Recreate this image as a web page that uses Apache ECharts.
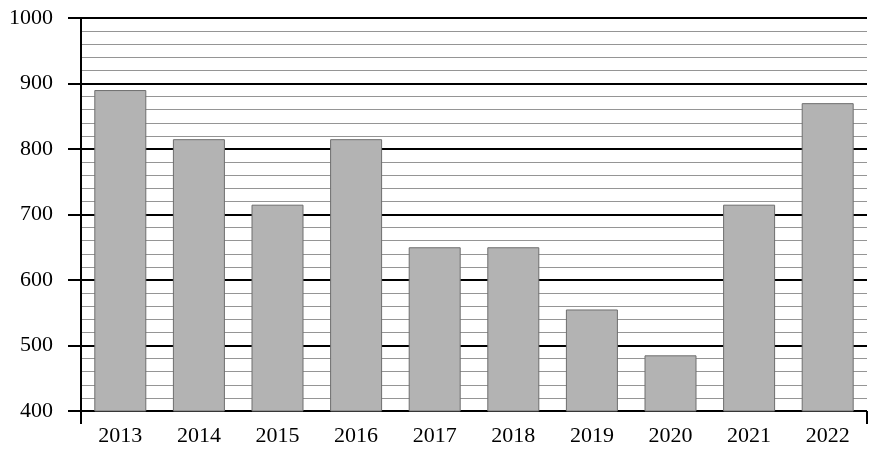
<!DOCTYPE html>
<html>
<head>
<meta charset="utf-8">
<script src="https://cdn.jsdelivr.net/npm/echarts@6/dist/echarts.min.js"></script>
<style>html,body{margin:0;padding:0;background:#fff}#c{width:878px;height:452px}</style>
</head>
<body>
<div id="c"></div>
<script>
const years = ['2013','2014','2015','2016','2017','2018','2019','2020','2021','2022'];
const values = [890, 815, 715, 815, 650, 650, 555, 485, 715, 870];
const yMin = 400, yMax = 1000, yStep = 100;

const chart = echarts.init(document.getElementById('c'));
chart.setOption({
  animation: false,
  backgroundColor: '#fff',
  grid: { left: 81, right: 11, top: 18, bottom: 41 },
  xAxis: {
    type: 'category',
    data: years,
    boundaryGap: true,
    axisLine: { show: false },
    axisTick: { show: true, length: 13, lineStyle: { color: '#000', width: 2 },
      interval: function (i) { return i === 0; } },
    axisLabel: { color: '#000', fontFamily: 'Liberation Serif', fontSize: 22, margin: 14 },
    splitLine: { show: false }
  },
  yAxis: {
    type: 'value',
    min: yMin, max: yMax, interval: yStep,
    axisLine: { show: true, lineStyle: { color: '#000', width: 2 } },
    axisTick: { show: true, length: 13, lineStyle: { color: '#000', width: 2 } },
    axisLabel: { color: '#000', fontFamily: 'Liberation Serif', fontSize: 22, margin: 28,
      formatter: function (v) { return String(v); } },
    splitLine: { show: true, lineStyle: { color: '#000', width: 2 } },
    minorTick: { show: false, splitNumber: 5 },
    minorSplitLine: { show: true, lineStyle: { color: '#959595', width: 1 } }
  },
  series: [{
    type: 'bar',
    data: values,
    barWidth: 52,
    itemStyle: { color: '#b3b3b3', borderColor: '#6e6e6e', borderWidth: 1 }
  }]
});
</script>
</body>
</html>
